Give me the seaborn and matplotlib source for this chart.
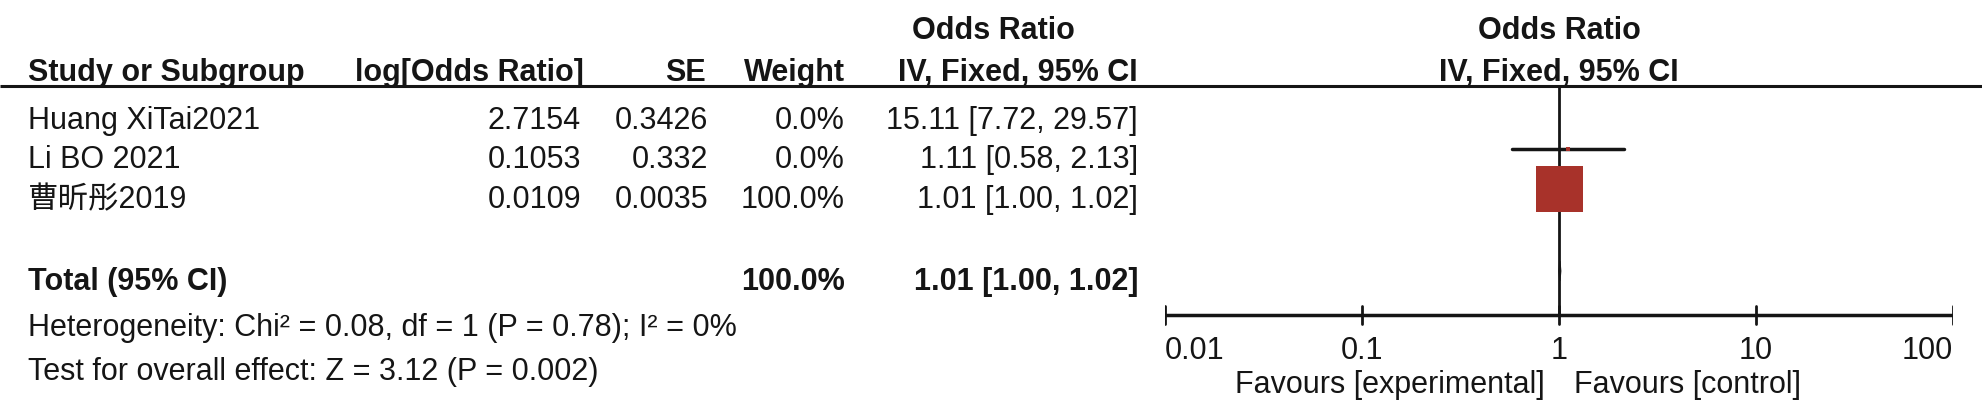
import numpy as np
import seaborn as sns
import matplotlib.pyplot as plt

sns.set_theme(style="white")
plt.rcParams['font.family'] = ['Liberation Sans', 'Noto Sans CJK SC', 'DejaVu Sans']

# study table
studies = ["Huang XiTai2021", "Li BO 2021", "曹昕彤2019"]
log_or = ["2.7154", "0.1053", "0.0109"]
se = ["0.3426", "0.332", "0.0035"]
weight_txt = ["0.0%", "0.0%", "100.0%"]
ci_txt = ["15.11 [7.72, 29.57]", "1.11 [0.58, 2.13]", "1.01 [1.00, 1.02]"]

# values for the forest
odds = [15.11, 1.11, 1.01]
lower = [7.72, 0.58, 1.00]
upper = [29.57, 2.13, 1.02]
weights = [0.0, 0.0, 100.0]
drawn = [False, True, True]   # Huang row has no mark in the original

total_or, total_lo, total_hi = 1.01, 1.00, 1.02
total_weight = "100.0%"
total_ci = "1.01 [1.00, 1.02]"
heterogeneity = "Heterogeneity: Chi² = 0.08, df = 1 (P = 0.78); I² = 0%"
overall = "Test for overall effect: Z = 3.12 (P = 0.002)"
ticks = [0.01, 0.1, 1, 10, 100]
tick_labels = ["0.01", "0.1", "1", "10", "100"]

ink = "#151515"
box_red = "#A8322A"
fs = 22

fig = plt.figure(figsize=(19.82, 4.2), dpi=100)
ax = fig.add_axes([0, 0, 1, 1])
ax.set_xlim(0, 1982)
ax.set_ylim(420, 0)
ax.axis("off")

# header
ax.text(993, 31, "Odds Ratio", ha="center", va="center", fontsize=fs, fontweight="bold", color=ink)
ax.text(1559, 31, "Odds Ratio", ha="center", va="center", fontsize=fs, fontweight="bold", color=ink)
hy = 73
ax.text(28, hy, "Study or Subgroup", ha="left", va="center", fontsize=fs, fontweight="bold", color=ink)
ax.text(584, hy, "log[Odds Ratio]", ha="right", va="center", fontsize=fs, fontweight="bold", color=ink)
ax.text(706, hy, "SE", ha="right", va="center", fontsize=fs, fontweight="bold", color=ink)
ax.text(845, hy, "Weight", ha="right", va="center", fontsize=fs, fontweight="bold", color=ink)
ax.text(1018, hy, "IV, Fixed, 95% CI", ha="center", va="center", fontsize=fs, fontweight="bold", color=ink)
ax.text(1559, hy, "IV, Fixed, 95% CI", ha="center", va="center", fontsize=fs, fontweight="bold", color=ink)
ax.plot([0, 1982], [86, 86], color=ink, lw=2.2, solid_capstyle="butt")

row_y = [121, 160, 200]
for i, name in enumerate(studies):
    y = row_y[i]
    ax.text(28, y, name, ha="left", va="center", fontsize=fs, color=ink)
    ax.text(581, y, log_or[i], ha="right", va="center", fontsize=fs, color=ink)
    ax.text(708, y, se[i], ha="right", va="center", fontsize=fs, color=ink)
    ax.text(845, y, weight_txt[i], ha="right", va="center", fontsize=fs, color=ink)
    ax.text(1138, y, ci_txt[i], ha="right", va="center", fontsize=fs, color=ink)

ty = 282
ax.text(28, ty, "Total (95% CI)", ha="left", va="center", fontsize=fs, fontweight="bold", color=ink)
ax.text(845, ty, total_weight, ha="right", va="center", fontsize=fs, fontweight="bold", color=ink)
ax.text(1138, ty, total_ci, ha="right", va="center", fontsize=fs, fontweight="bold", color=ink)
ax.text(28, 328, heterogeneity, ha="left", va="center", fontsize=fs, color=ink)
ax.text(28, 372, overall, ha="left", va="center", fontsize=fs, color=ink)

# forest panel, log scale from 0.01 to 100
fx = fig.add_axes([1165 / 1982, 0, 788 / 1982, 1])
fx.set_xscale("log")
fx.set_xlim(0.01, 100)
fx.set_ylim(420, 0)
fx.axis("off")

axis_y = 315
fx.plot([1, 1], [86, axis_y], color=ink, lw=2, zorder=1)
fx.plot([ticks[0], ticks[-1]], [axis_y, axis_y], color=ink, lw=2.5, solid_capstyle="butt")
for t, lab in zip(ticks, tick_labels):
    fx.plot([t, t], [axis_y - 9, axis_y + 9], color=ink, lw=2)
    ha = "left" if t == ticks[0] else ("right" if t == ticks[-1] else "center")
    fx.text(t, 351, lab, ha=ha, va="center", fontsize=fs, color=ink)
fx.text(0.85, 385, "Favours [experimental]", ha="right", va="center", fontsize=fs, color=ink)
fx.text(1.19, 385, "Favours [control]", ha="left", va="center", fontsize=fs, color=ink)

mark_y = [y - 11 for y in row_y]
xs = [odds[i] for i in range(3) if drawn[i]]
ys = [mark_y[i] for i in range(3) if drawn[i]]
ws = [weights[i] for i in range(3) if drawn[i]]
for i in range(3):
    if drawn[i]:
        fx.plot([lower[i], upper[i]], [mark_y[i], mark_y[i]], color=ink, lw=2.5, zorder=2)
sns.scatterplot(x=xs, y=ys, size=ws, sizes=(12, 1140), marker="s", color=box_red,
                linewidth=0, legend=False, ax=fx, zorder=3)

# pooled diamond (very narrow)
dy = ty - 11
fx.fill([total_lo, total_or, total_hi, total_or], [dy, dy - 10, dy, dy + 10], color=ink, zorder=3)

fig.savefig("out.png", dpi=100)
